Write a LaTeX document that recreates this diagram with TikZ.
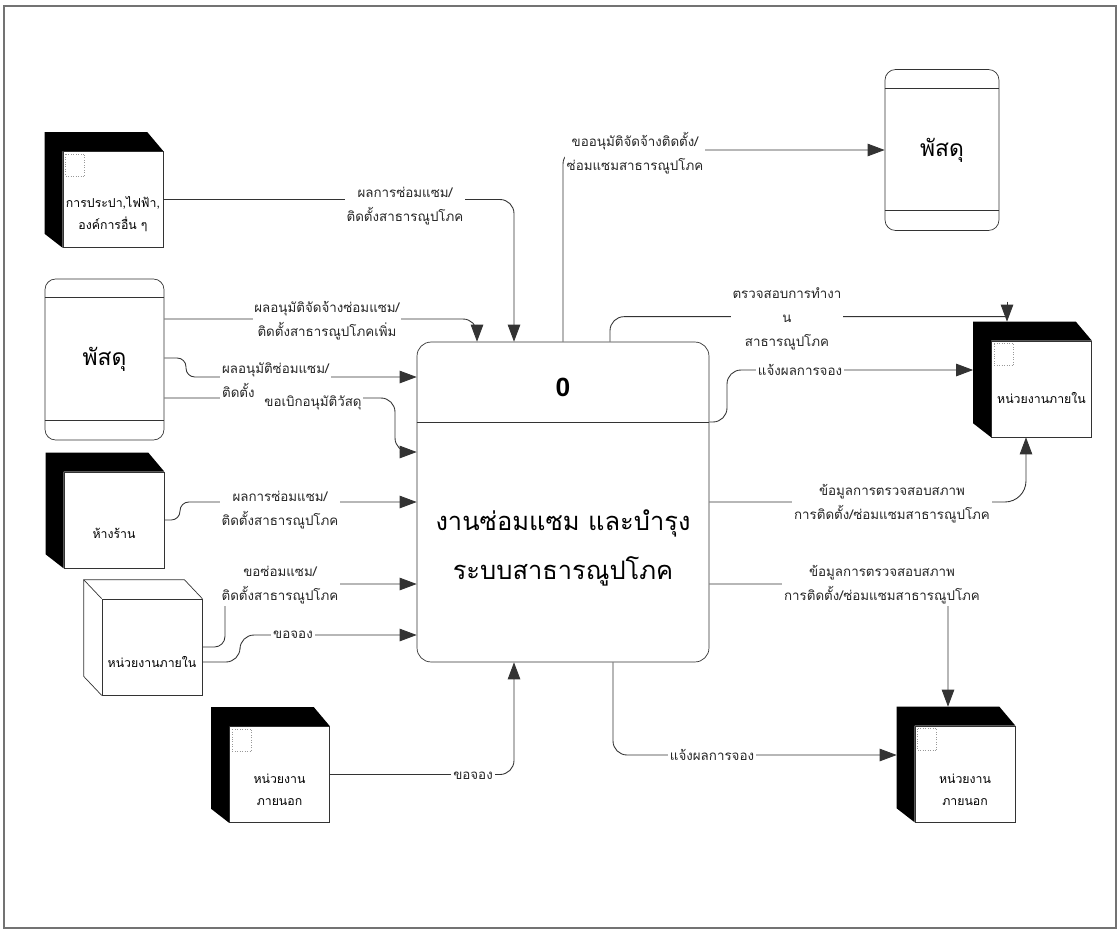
\documentclass[tikz,border=0pt]{standalone}
\usepackage{fontspec}
\newfontfamily\thaifont[Script=Thai]{Loma}
\newfontfamily\numfont{Liberation Sans}
\usepackage{tikz}
\usetikzlibrary{arrows.meta}
\tikzset{%
  process/.style={draw=black!80, rounded corners=8pt, minimum width=5.84cm, minimum height=6.4cm},
  datastore/.style={draw=black!80, rounded corners=6pt, minimum height=3.22cm,
    font=\thaifont\fontsize{13}{15}\selectfont},
  entity/.style={draw=black!80, fill=white, minimum width=2cm, minimum height=1.92cm, inner sep=0pt},
  enttext/.style={align=center, font=\thaifont\fontsize{7}{12.5}\selectfont},
  link/.style={draw=black!80, line width=0.5pt, rounded corners=8pt},
  flow/.style={link, -{Triangle[length=3.4mm,width=2.5mm]}},
  flowtext/.style={fill=white, inner sep=1pt, align=center, text=black!85,
    font=\thaifont\fontsize{7.6}{13.5}\selectfont},
}

\begin{document}
\begin{tikzpicture}[x=0.02cm,y=-0.02cm]
  \useasboundingbox (0,0) rectangle (1119,930);
  \draw [black!55, line width=0.8pt] (4,6) rectangle (1116,928);

  % process 0
  \node [process] (proc) at (563,502) {};
  \coordinate (dv) at (0,422);
  \draw [black!80] (proc.west |- dv) -- (proc.east |- dv);
  \node [font=\numfont\bfseries\fontsize{15}{15}\selectfont] (pnum) at (563,387) {0};
  \node [align=center, font=\thaifont\fontsize{14.5}{27.5}\selectfont] (pname) at (563,548)
    {งานซ่อมแซม และบำรุง\\ระบบสาธารณูปโภค};

  % data stores
  \node [datastore, minimum width=2.38cm] (storeL) at (104.5,359.5) {พัสดุ};
  \node [datastore, minimum width=2.28cm] (storeR) at (942,150) {พัสดุ};
  \foreach \s in {storeL,storeR}
  {
    \draw [black!80] ([yshift=-0.38cm]\s.north west) -- ([yshift=-0.38cm]\s.north east);
    \draw [black!80] ([yshift=0.4cm]\s.south west) -- ([yshift=0.4cm]\s.south east);
  }

  % external entities
  \node [entity] (prov) at (113,199.5) {};
  \node [entity] (shop) at (114,520) {};
  \node [entity] (intL) at (152,647) {};
  \node [entity] (extL) at (279.5,774.5) {};
  \node [entity] (intR) at (1041.5,389) {};
  \node [entity] (extR) at (965,774) {};

  \foreach \e in {prov,shop,extL,intR,extR}
  {
    \coordinate (\e-back) at ([shift={(-18,-19)}]\e.north west);
    \fill [black] (\e-back) -- ([shift={(-16,-19)}]\e.north east) -- (\e.north east)
      -- (\e.north west) -- (\e.south west) -- ([shift={(-18,-14)}]\e.south west) -- cycle;
  }
  \draw [black!80] (intL.south west) -- ++(-18,-19) -- ([shift={(-18,-19)}]intL.north west)
    -- ([shift={(-18,-19)}]intL.north east) -- (intL.north east);
  \draw [black!80] (intL.north west) -- ++(-18,-19);
  \foreach \e in {prov,extL,intR,extR}
    \draw [black!40, densely dotted] ([shift={(3,3)}]\e.north west) rectangle ++(19,22);

  \node [enttext] (prov-t) at ([yshift=-0.3cm]prov.center) {การประปา,ไฟฟ้า,\\องค์การอื่น ๆ};
  \node [enttext] (shop-t) at ([yshift=-0.26cm]shop.center) {ห้างร้าน};
  \node [enttext] (intL-t) at ([yshift=-0.3cm]intL.center) {หน่วยงานภายใน};
  \node [enttext] (extL-t) at ([yshift=-0.3cm]extL.center) {หน่วยงาน\\ภายนอก};
  \node [enttext] (intR-t) at ([yshift=-0.18cm]intR.center) {หน่วยงานภายใน};
  \node [enttext] (extR-t) at ([yshift=-0.32cm]extR.center) {หน่วยงาน\\ภายนอก};

  % data flows in
  \draw [flow] (prov.east) -| (proc.north -| 514,0);
  \draw [flow] (storeL.east |- 0,319) -| (proc.north -| 477,0);
  \draw [flow, rounded corners=5pt] (storeL.east |- 0,358) -- (186,358) -- (186,377) -- (proc.west |- 0,377);
  \draw [flow] (storeL.east |- 0,398) -- (395,398) -- (395,452) -- (proc.west |- 0,452);
  \draw [flow, rounded corners=5pt] (shop.east) -- (180,520) -- (180,502) -- (proc.west |- 0,502);
  \draw [flow, rounded corners=6pt] (intL.east) -- (225,647) -- (225,584) -- (proc.west |- 0,584);
  \draw [flow] (intL.east |- 0,662) -- (240,662) -- (240,635) -- (proc.west |- 0,635);
  \draw [flow] (extL.east) -| (proc.south -| 514,0);

  % data flows out
  \coordinate (chk) at (intR-back -| 1007,0);
  \draw [flow] (proc.north) |- (storeR.west);
  \draw [link] (proc.north -| 610,0) |- ([yshift=0.1cm]chk);
  \draw [flow] ([yshift=0.4cm]chk) -- (chk);
  \draw [flow] (proc.east |- dv) -- (727,422) -- (727,370) -- (intR-back |- 0,370);
  \draw [flow, rounded corners=12pt] (proc.east |- 0,502) -| (intR.south -| 1026,0);
  \draw [flow] (proc.east |- 0,584) -| (extR-back -| 948,0);
  \draw [flow] (proc.south -| 613,0) |- (extR-back |- 0,755);

  % flow labels
  \node [flowtext] (f1) at (405,206) {ผลการซ่อมแซม/\\ติดตั้งสาธารณูปโภค};
  \node [flowtext] (f2) at (327,321) {ผลอนุมัติจัดจ้างซ่อมแซม/\\ติดตั้งสาธารณูปโภคเพิ่ม};
  \node [flowtext, align=left, anchor=west] (f3) at (220,380) {ผลอนุมัติซ่อมแซม/\\ติดตั้ง};
  \node [flowtext] (f4) at (313,403) {ขอเบิกอนุมัติวัสดุ};
  \node [flowtext] (f5) at (280,510) {ผลการซ่อมแซม/\\ติดตั้งสาธารณูปโภค};
  \node [flowtext] (f6) at (280,585) {ขอซ่อมแซม/\\ติดตั้งสาธารณูปโภค};
  \node [flowtext] (f7) at (293,635) {ขอจอง};
  \node [flowtext] (f8) at (473,776) {ขอจอง};
  \node [flowtext] (f9) at (635,153) {ขออนุมัติจัดจ้างติดตั้ง/\\ซ่อมแซมสาธารณูปโภค};
  \node [flowtext] (f10) at (787,319) {ตรวจสอบการทำงา\\น\\สาธารณูปโภค};
  \node [flowtext] (f11) at (800,370) {แจ้งผลการจอง};
  \node [flowtext] (f12) at (892,504) {ข้อมูลการตรวจสอบสภาพ\\การติดตั้ง/ซ่อมแซมสาธารณูปโภค};
  \node [flowtext] (f13) at (882,585) {ข้อมูลการตรวจสอบสภาพ\\การติดตั้ง/ซ่อมแซมสาธารณูปโภค};
  \node [flowtext] (f14) at (712,755) {แจ้งผลการจอง};

\end{tikzpicture}
\end{document}
